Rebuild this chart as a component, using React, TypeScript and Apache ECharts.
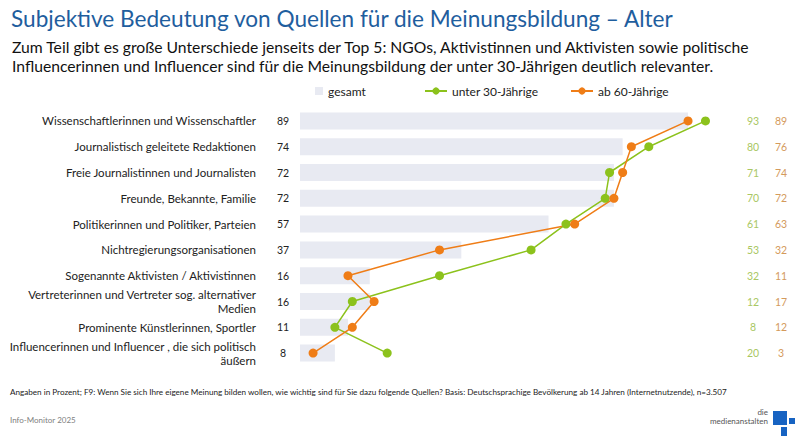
import React, { useEffect, useRef } from "react";
import * as echarts from "echarts";

const categories = [
  "Wissenschaftlerinnen und Wissenschaftler",
  "Journalistisch geleitete Redaktionen",
  "Freie Journalistinnen und Journalisten",
  "Freunde, Bekannte, Familie",
  "Politikerinnen und Politiker, Parteien",
  "Nichtregierungsorganisationen",
  "Sogenannte Aktivisten / Aktivistinnen",
  "Vertreterinnen und Vertreter sog. alternativer\nMedien",
  "Prominente Künstlerinnen, Sportler",
  "Influencerinnen und Influencer , die sich politisch\näußern",
];
const gesamt = [89, 74, 72, 72, 57, 37, 16, 16, 11, 8];
const unter30 = [93, 80, 71, 70, 61, 53, 32, 12, 8, 20];
const ab60 = [89, 76, 74, 72, 63, 32, 11, 17, 12, 3];

const FONT = "Lato";
const GREEN = "#8cc21c";
const ORANGE = "#ef7d17";
const BAR = "#e8eaf2";

export default function App() {
  const ref = useRef<HTMLDivElement>(null);
  useEffect(() => {
    if (!ref.current) return;
    const chart = echarts.init(ref.current, null, { renderer: "svg" });
    const catAxisBase = {
      type: "category" as const,
      data: categories,
      inverse: true,
      axisLine: { show: false },
      axisTick: { show: false },
      splitLine: { show: false },
    };
    chart.setOption({
      animation: false,
      backgroundColor: "#ffffff",
      textStyle: { fontFamily: FONT },
      title: [
        {
          text: "Subjektive Bedeutung von Quellen für die Meinungsbildung – Alter",
          left: 6,
          top: 2,
          textStyle: { fontFamily: FONT, fontSize: 22.6, fontWeight: "normal", color: "#1f5e9e" },
        },
        {
          text:
            "Zum Teil gibt es große Unterschiede jenseits der Top 5: NGOs, Aktivistinnen und Aktivisten sowie politische\nInfluencerinnen und Influencer sind für die Meinungsbildung der unter 30-Jährigen deutlich relevanter.",
          left: 7,
          top: 32,
          textStyle: { fontFamily: FONT, fontSize: 15.7, fontWeight: "normal", color: "#111111", lineHeight: 19.5 },
        },
        {
          text:
            "Angaben in Prozent; F9: Wenn Sie sich Ihre eigene Meinung bilden wollen, wie wichtig sind für Sie dazu folgende Quellen? Basis: Deutschsprachige Bevölkerung ab 14 Jahren (Internetnutzende), n=3.507",
          left: 5,
          top: 383,
          textStyle: { fontFamily: FONT, fontSize: 8.15, fontWeight: "normal", color: "#222222" },
        },
        {
          text: "Info-Monitor 2025",
          left: 5,
          top: 411,
          textStyle: { fontFamily: FONT, fontSize: 8, fontWeight: "normal", color: "#808080" },
        },
      ],
      legend: [
        {
          data: [{ name: "gesamt", icon: "rect" }],
          left: 310,
          top: 80,
          itemWidth: 8,
          itemHeight: 8,
          textStyle: { fontFamily: FONT, fontSize: 12, color: "#222" },
        },
        {
          data: ["unter 30-Jährige"],
          left: 419,
          top: 80,
          itemWidth: 22,
          itemHeight: 9,
          textStyle: { fontFamily: FONT, fontSize: 12, color: "#222" },
        },
        {
          data: ["ab 60-Jährige"],
          left: 565,
          top: 80,
          itemWidth: 22,
          itemHeight: 9,
          textStyle: { fontFamily: FONT, fontSize: 12, color: "#222" },
        },
      ],
      grid: { left: 300, top: 108, width: 436, height: 258, containLabel: false },
      xAxis: {
        type: "value",
        min: 0,
        max: 100,
        show: false,
      },
      yAxis: [
        {
          ...catAxisBase,
          position: "left",
          axisLabel: {
            margin: 44,
            fontFamily: FONT,
            fontSize: 11.5,
            color: "#222",
            lineHeight: 14,
            align: "right",
          },
        },
        {
          ...catAxisBase,
          position: "left",
          axisLabel: {
            margin: 17,
            align: "center",
            fontFamily: FONT,
            fontSize: 10.5,
            color: "#222",
            formatter: (_v: string, i: number) => String(gesamt[i]),
          },
        },
        {
          ...catAxisBase,
          position: "right",
          axisLabel: {
            margin: 17,
            align: "center",
            fontFamily: FONT,
            fontSize: 10.5,
            color: "#a9c763",
            formatter: (_v: string, i: number) => String(unter30[i]),
          },
        },
        {
          ...catAxisBase,
          position: "right",
          offset: 28,
          axisLabel: {
            margin: 17,
            align: "center",
            fontFamily: FONT,
            fontSize: 10.5,
            color: "#d49a5c",
            formatter: (_v: string, i: number) => String(ab60[i]),
          },
        },
      ],
      series: [
        {
          name: "gesamt",
          type: "bar",
          data: gesamt,
          barWidth: 17,
          itemStyle: { color: BAR },
          yAxisIndex: 0,
        },
        {
          name: "unter 30-Jährige",
          type: "line",
          data: unter30,
          yAxisIndex: 0,
          symbol: "circle",
          symbolSize: 9,
          lineStyle: { color: GREEN, width: 1.5 },
          itemStyle: { color: GREEN },
        },
        {
          name: "ab 60-Jährige",
          type: "line",
          data: ab60,
          yAxisIndex: 0,
          symbol: "circle",
          symbolSize: 9,
          lineStyle: { color: ORANGE, width: 1.5 },
          itemStyle: { color: ORANGE },
        },
      ],
      graphic: [
        {
          type: "text",
          right: 32,
          top: 408,
          style: { text: "die", fontFamily: FONT, fontSize: 8, fill: "#555", textAlign: "right" },
        },
        {
          type: "text",
          right: 32,
          top: 417,
          style: { text: "medienanstalten", fontFamily: FONT, fontSize: 8, fill: "#555", textAlign: "right" },
        },
        { type: "rect", shape: { x: 773, y: 411, width: 14, height: 14 }, style: { fill: "#1763c2" } },
        { type: "rect", shape: { x: 789, y: 418, width: 6, height: 6 }, style: { fill: "#1763c2" } },
        { type: "rect", shape: { x: 781, y: 427, width: 6, height: 9 }, style: { fill: "#1763c2" } },
      ],
    });
    return () => chart.dispose();
  }, []);
  return <div ref={ref} style={{ width: 800, height: 436, position: "absolute", left: 0, top: 0 }} />;
}
